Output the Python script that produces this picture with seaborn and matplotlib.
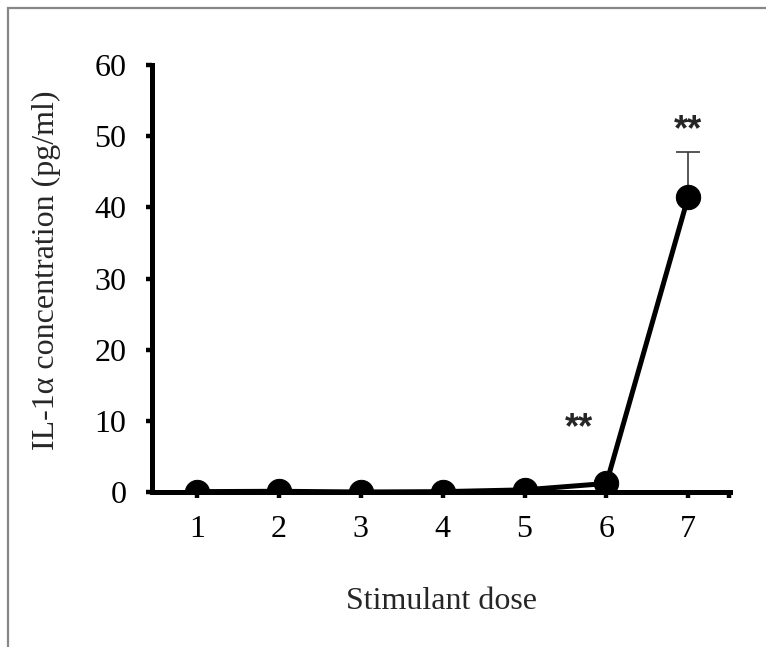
import numpy as np
import pandas as pd
import matplotlib
matplotlib.use("Agg")
import matplotlib.pyplot as plt
import seaborn as sns
from matplotlib.patches import Rectangle

# values
doses = [1, 2, 3, 4, 5, 6, 7]
il1a = [0.05, 0.1, 0.0, 0.05, 0.3, 1.2, 41.5]
il1a_err = [0.05, 0.05, 0.05, 0.05, 0.1, 0.3, 6.3]
star_x = [5.66, 7]
star_y = [8.9, 50.8]
star_txt = ["**", "**"]

df = pd.DataFrame({"dose": doses, "conc": il1a})

sns.set_style("ticks")
plt.rcParams["font.family"] = ["Liberation Serif", "DejaVu Serif"]

fig = plt.figure(figsize=(7.66, 6.47), dpi=100)
ax = fig.add_axes([152 / 766, 1 - 492 / 647, 578 / 766, 427 / 647])

# upper-only error bars, like the Excel original
ax.errorbar(doses, il1a, yerr=[np.zeros(len(il1a_err)), il1a_err], fmt="none",
            ecolor="#3a3a3a", elinewidth=1.2, capsize=8.5, capthick=1.2, zorder=1)

sns.lineplot(data=df, x="dose", y="conc", ax=ax, color="black", linewidth=3.6,
             marker="o", markersize=17.5, markeredgecolor="black", zorder=3)

for sx, sy, t in zip(star_x, star_y, star_txt):
    ax.text(sx, sy, t, ha="center", va="center", fontsize=26,
            family=["Liberation Sans", "DejaVu Sans"], fontweight="bold")

ax.set_xlim(0.45, 7.51)
ax.set_ylim(0, 60)
ax.set_xticks(doses)
ax.set_xticks([7.5], minor=True)
ax.set_yticks([0, 10, 20, 30, 40, 50, 60])

for side in ["top", "right"]:
    ax.spines[side].set_visible(False)
for side in ["left", "bottom"]:
    ax.spines[side].set_linewidth(3.6)
    ax.spines[side].set_color("black")

ax.tick_params(axis="both", which="both", direction="out", length=4.5, width=3.2,
               color="black", labelsize=23, labelcolor="black")
ax.tick_params(axis="y", pad=14)
ax.tick_params(axis="x", pad=12)

ax.set_xlabel("Stimulant dose", fontsize=23)
ax.set_ylabel("IL-1\u03b1 concentration (pg/ml)", fontsize=23)
ax.xaxis.set_label_coords(0.5, -0.222)
ax.yaxis.set_label_coords(-0.157, 0.52)

# grey frame of the pasted figure, running off the right and bottom edges
fig.patches.append(Rectangle((8 / 766, -0.5), 2.0, 1.5 - 8 / 647, transform=fig.transFigure,
                             fill=False, edgecolor="#878787", linewidth=1.6, clip_on=False))

fig.savefig("out.png", dpi=100)
